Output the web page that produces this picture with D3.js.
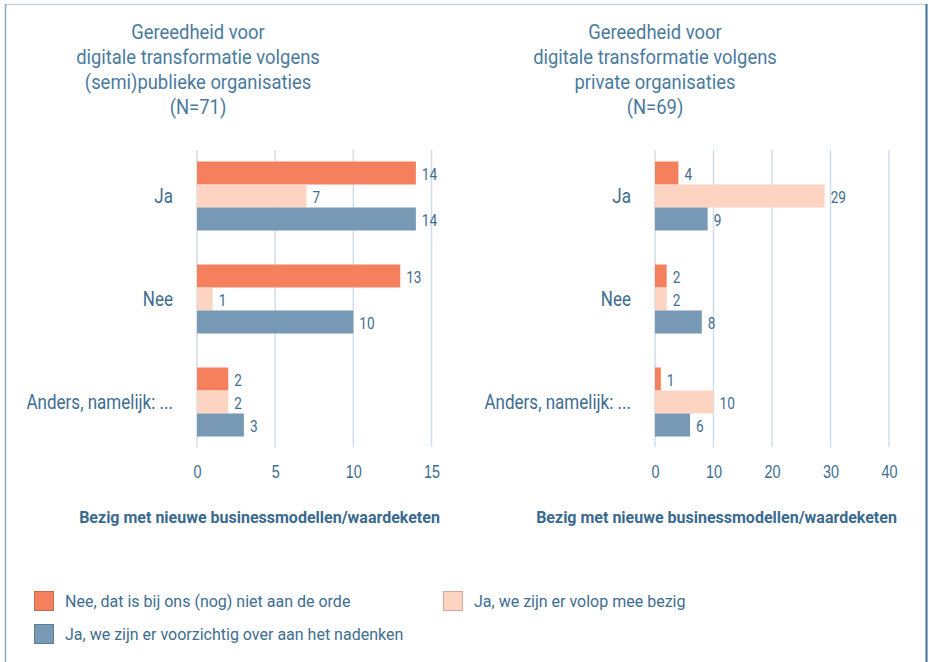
<!DOCTYPE html>
<html>
<head>
<meta charset="utf-8">
<script src="https://cdn.jsdelivr.net/npm/d3@7"></script>
<style>
body{margin:0;background:#fff;}
svg{display:block;font-family:Roboto,"Liberation Sans",sans-serif;}
</style>
</head>
<body>
<svg id="chart" width="929" height="662"></svg>
<script>
// data
var categories = ["Ja", "Nee", "Anders, namelijk: ..."];
var series = ["Nee, dat is bij ons (nog) niet aan de orde", "Ja, we zijn er volop mee bezig", "Ja, we zijn er voorzichtig over aan het nadenken"];
var publiekNee = [14, 13, 2];
var publiekVolop = [7, 1, 2];
var publiekVoorzichtig = [14, 10, 3];
var privaatNee = [4, 2, 1];
var privaatVolop = [29, 2, 10];
var privaatVoorzichtig = [9, 8, 6];
var publiekTicks = [0, 5, 10, 15];
var privaatTicks = [0, 10, 20, 30, 40];
var titelPubliek = ["Gereedheid voor", "digitale transformatie volgens", "(semi)publieke organisaties", "(N=71)"];
var titelPrivaat = ["Gereedheid voor", "digitale transformatie volgens", "private organisaties", "(N=69)"];
var asTitel = "Bezig met nieuwe businessmodellen/waardeketen";

var kleuren = ["#f5805e", "#fdd3c1", "#7799b5"];
var tekstKleur = "#3e6d90";

var svg = d3.select("#chart");

// tekst smaller maken (condensed letter nabootsen)
function smal(sel, f){
  sel.each(function(){
    var w = this.getComputedTextLength();
    d3.select(this).attr("textLength", w * f).attr("lengthAdjust","spacingAndGlyphs");
  });
}

// kader
svg.append("line").attr("x1",5).attr("x2",927).attr("y1",4.5).attr("y2",4.5).attr("stroke","#c9d3dc").attr("stroke-width",1.5);
svg.append("line").attr("x1",5.5).attr("x2",5.5).attr("y1",4).attr("y2",662).attr("stroke","#8eabc3").attr("stroke-width",1.5);
svg.append("line").attr("x1",926.5).attr("x2",926.5).attr("y1",4).attr("y2",662).attr("stroke","#3b6f99").attr("stroke-width",2);

function grafiek(opties){
  var x = d3.scaleLinear().domain(opties.domein).range([opties.x0, opties.x1]);
  var y = d3.scaleBand().domain(categories).range([144.5, 453.5]).paddingInner(0.33).paddingOuter(0.165);
  var ySub = d3.scaleBand().domain(d3.range(3)).range([0, y.bandwidth()]);

  var g = svg.append("g");

  // titel
  var tspans = g.append("text")
    .attr("text-anchor","middle")
    .attr("fill","#4b7a9e")
    .style("font-size","20px")
    .selectAll("tspan")
    .data(opties.titel)
    .enter().append("tspan")
      .attr("x", opties.titelX)
      .attr("y", function(d,i){ return 39 + i*25; })
      .text(function(d){ return d; });
  smal(tspans, 0.92);

  // rasterlijnen
  g.selectAll(".raster")
    .data(opties.ticks)
    .enter().append("line")
      .attr("x1", function(d){ return x(d); })
      .attr("x2", function(d){ return x(d); })
      .attr("y1", 150).attr("y2", 447)
      .attr("stroke","#d3dde8").attr("stroke-width",1.5);

  // as
  var as = g.append("g")
    .attr("transform","translate(0,447)")
    .call(d3.axisBottom(x).tickValues(opties.ticks).tickSize(0).tickPadding(18));
  as.select(".domain").remove();
  as.selectAll("text").attr("fill", tekstKleur).style("font-size","18px").style("font-family",null);
  smal(as.selectAll("text"), 0.8);

  // categorieen
  smal(g.selectAll(".cat")
    .data(categories)
    .enter().append("text")
      .attr("x", opties.x0 - 24)
      .attr("y", function(d){ return y(d) + y.bandwidth()/2; })
      .attr("dy","0.35em")
      .attr("text-anchor","end")
      .attr("fill", tekstKleur)
      .style("font-size","20px")
      .text(function(d){ return d; }), 0.85);

  // balken
  var rijen = [];
  opties.waarden.forEach(function(reeks, s){
    reeks.forEach(function(v, c){ rijen.push({cat: categories[c], s: s, v: v}); });
  });

  g.selectAll(".balk")
    .data(rijen)
    .enter().append("rect")
      .attr("x", x(0))
      .attr("y", function(d){ return y(d.cat) + ySub(d.s); })
      .attr("width", function(d){ return x(d.v) - x(0); })
      .attr("height", ySub.bandwidth())
      .attr("fill", function(d){ return kleuren[d.s]; });

  smal(g.selectAll(".label")
    .data(rijen)
    .enter().append("text")
      .attr("x", function(d){ return x(d.v) + 6; })
      .attr("y", function(d){ return y(d.cat) + ySub(d.s) + ySub.bandwidth()/2 + 1; })
      .attr("dy","0.35em")
      .attr("fill", tekstKleur)
      .style("font-size","17px")
      .text(function(d){ return d.v; }), 0.8);

  // astitel
  g.append("text")
    .attr("x", opties.asTitelX)
    .attr("y", 523)
    .attr("text-anchor","middle")
    .attr("fill", "#3a6a8e")
    .style("font-size","16px")
    .style("font-weight","bold")
    .text(asTitel);
}

grafiek({
  domein: [0, 15], x0: 197, x1: 431.5, ticks: publiekTicks,
  waarden: [publiekNee, publiekVolop, publiekVoorzichtig],
  titel: titelPubliek, titelX: 198, asTitelX: 259.5
});

grafiek({
  domein: [0, 40], x0: 655, x1: 889, ticks: privaatTicks,
  waarden: [privaatNee, privaatVolop, privaatVoorzichtig],
  titel: titelPrivaat, titelX: 655, asTitelX: 716.5
});

// legenda
var legendaPos = [{x:34, y:591}, {x:443, y:591}, {x:34, y:624}];
var leg = svg.selectAll(".leg")
  .data(series)
  .enter().append("g")
    .attr("transform", function(d,i){ return "translate(" + legendaPos[i].x + "," + legendaPos[i].y + ")"; });

leg.append("rect")
  .attr("x",0.5).attr("y",0.5).attr("width",19).attr("height",19)
  .attr("fill", function(d,i){ return kleuren[i]; })
  .attr("stroke", function(d,i){ return d3.color(kleuren[i]).darker(0.6); })
  .attr("stroke-width",1);

leg.append("text")
  .attr("x",31).attr("y",10.5).attr("dy","0.35em")
  .attr("fill", tekstKleur)
  .style("font-size","16px")
  .text(function(d){ return d; });
</script>
</body>
</html>
